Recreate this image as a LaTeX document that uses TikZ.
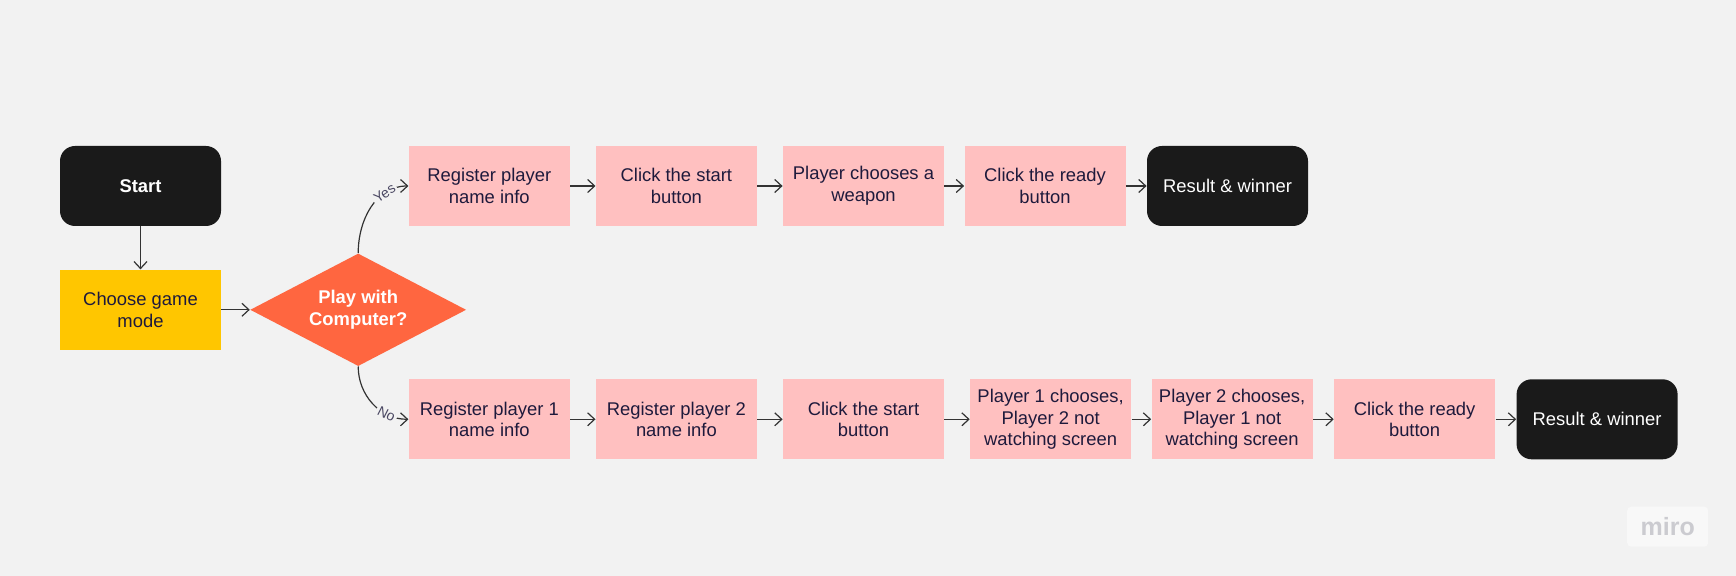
\documentclass[tikz,border=0pt]{standalone}
\usepackage{fontspec}
\setmainfont{Liberation Sans}
\usepackage{xcolor}
\usepackage{tikz}
\usetikzlibrary{arrows.meta,positioning,shapes.geometric}
\definecolor{MiroBg}{HTML}{F2F2F2}
\definecolor{MiroPink}{HTML}{FFC0C0}
\definecolor{MiroBlack}{HTML}{1A1A1A}
\definecolor{MiroYellow}{HTML}{FFC600}
\definecolor{MiroOrange}{HTML}{FF6640}
\definecolor{MiroInk}{HTML}{1E1A3C}
\definecolor{MiroLine}{HTML}{333333}
\definecolor{MiroLogo}{HTML}{CBCBD0}

\begin{document}
\begin{tikzpicture}[node distance=21.5pt and 12.65pt, every node/.style={font=\fontsize{9.2}{10.8}\selectfont}, b/.style={fill=MiroPink,text=MiroInk,align=center,minimum height=40pt,minimum width=80.5pt,inner sep=0pt}, t/.style={fill=MiroBlack,text=white,rounded corners=7.5pt,align=center,minimum height=40pt,minimum width=80.5pt,inner sep=0pt}, d/.style={diamond,aspect=2,fill=MiroOrange,text=white,align=center,minimum width=108pt,minimum height=56.3pt,inner sep=0pt}, a/.style={-{Straight Barb[length=3.5pt,width=6.5pt]},line width=0.6pt,MiroLine}, lbl/.style={font=\fontsize{7}{8}\selectfont,text=MiroInk!80,fill=MiroBg,inner sep=1pt,sloped}]
\fill[MiroBg] (0,0) rectangle (868pt,-288pt);
\node[t,font=\fontsize{9.2}{10.8}\selectfont\bfseries] (start) at (70.25pt,-93pt) {Start};
\node[b,below=of start,fill=MiroYellow] (mode) {Choose game\\mode};
\node[d,right=14.2pt of mode,font=\fontsize{9.2}{10.8}\selectfont\bfseries] (computer) {Play with\\Computer?};
\node[b,right=93.5pt of start] (reg) {Register player\\name info};
\node[b,right=of reg] (startbtn) {Click the start\\button};
\node[b,right=of startbtn] (weapon) {Player chooses a\\weapon};
\node[b,right=9.85pt of weapon] (ready) {Click the ready\\button};
\node[t,right=10.35pt of ready] (result) {Result \& winner};
\node[b,below=76.25pt of reg] (regone) {Register player 1\\name info};
\node[b,right=of regone] (regtwo) {Register player 2\\name info};
\node[b,right=of regtwo] (startbtntwo) {Click the start\\button};
\node[b,right=of startbtntwo] (chooseone) {Player 1 chooses,\\Player 2 not\\watching screen};
\node[b,right=9.85pt of chooseone] (choosetwo) {Player 2 chooses,\\Player 1 not\\watching screen};
\node[b,right=10.35pt of choosetwo] (readytwo) {Click the ready\\button};
\node[t,right=10.35pt of readytwo] (resulttwo) {Result \& winner};
\node[fill=white!45!MiroBg,text=MiroLogo,rounded corners=2pt,minimum width=40.5pt,minimum height=20pt,font=\fontsize{12.5}{14}\selectfont\bfseries] (logo) at (833.85pt,-263.35pt) {miro};
\draw[a] (start)--(mode);
\draw[a] (mode)--(computer);
\draw[a] (computer.north) to[out=90,in=180] node[lbl,pos=0.72] {Yes} (reg.west);
\draw[a] (computer.south) to[out=-90,in=180] node[lbl,pos=0.72] {No} (regone.west);
\draw[a] (reg)--(startbtn);
\draw[a] (startbtn)--(weapon);
\draw[a] (weapon)--(ready);
\draw[a] (ready)--(result);
\draw[a] (regone)--(regtwo);
\draw[a] (regtwo)--(startbtntwo);
\draw[a] (startbtntwo)--(chooseone);
\draw[a] (chooseone)--(choosetwo);
\draw[a] (choosetwo)--(readytwo);
\draw[a] (readytwo)--(resulttwo);
\end{tikzpicture}
\end{document}
